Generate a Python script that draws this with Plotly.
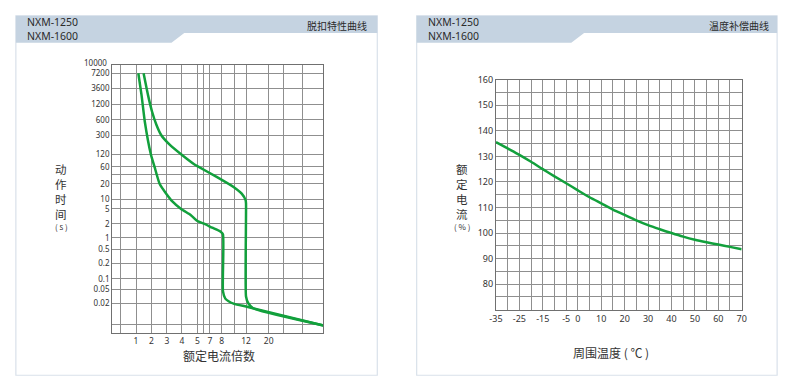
import numpy as np
import plotly.graph_objects as go

W, H = 790, 389

# ---------------- Left chart: tripping characteristic ----------------
mult_ticks = [0, 0.5, 1, 2, 3, 4, 5, 6, 7, 8, 10, 12, 20, 30, 40, 50]
mult_labels = ["", "", "1", "2", "3", "4", "5", "", "7", "8", "", "12", "20", "", "", ""]
time_ticks = [0.005, 0.01, 0.02, 0.05, 0.1, 0.2, 0.5, 1, 2, 5, 10, 20, 40, 60,
              120, 300, 600, 1200, 3600, 7200, 10000]
time_labels = ["", "", "0.02", "0.05", "0.1", "0.2", "0.5", "1", "2", "5", "10", "20", "",
               "60", "120", "300", "600", "1200", "3600", "7200", "10000"]

# curve with lower threshold (8x instantaneous)
curve_a_mult = [1.15, 1.36, 1.57, 1.96, 2.21, 2.53, 2.96, 3.38, 3.94, 4.58, 5.0, 6.1,
                7.19, 7.89, 8.2, 8.2, 8.58, 9.1, 10.0, 12.05, 14.5, 50]
curve_a_time = [7200, 2220, 554, 120, 58, 20, 12.8, 8.4, 5, 3.41, 2.36, 2.0,
                1.65, 1.37, 1.2, 0.044, 0.027, 0.0228, 0.0196, 0.018, 0.017, 0.0092]
# curve with upper threshold (12x instantaneous)
curve_b_mult = [1.49, 1.78, 2.04, 2.32, 2.64, 3.17, 3.94, 4.79, 5.0, 7.61, 9.89, 11.27,
                11.93, 12.0, 12.0, 12.8, 14.5, 50]
curve_b_time = [7200, 2220, 866, 484, 305, 195, 120, 69, 62, 33, 17.3, 12.8,
                9.3, 7.4, 0.031, 0.02, 0.017, 0.0092]

# ---------------- Right chart: temperature compensation ----------------
temps = [-35, -30, -25, -20, -15, -10, -5, 0, 5, 10, 15, 20, 25, 30, 35, 40, 45, 50, 55, 60, 65, 70]
rated_pct = [135.6, 133.1, 130.6, 127.9, 125.0, 122.2, 119.5, 116.7, 114.0, 111.6, 109.2,
             107.1, 105.0, 103.1, 101.5, 100.0, 98.6, 97.4, 96.4, 95.5, 94.6, 93.7]
temp_label_vals = [-35, -25, -15, -5, 0, 10, 20, 30, 40, 50, 60, 70]
pct_label_vals = [80, 90, 100, 110, 120, 130, 140, 150, 160]

# ---- layout geometry of the hand-drawn (non-uniform) grid of the left chart ----
mult_grid_pos = [0, 8.6, 24.3, 40, 55.6, 71, 86.6, 92.6, 99.3, 111.3, 124, 136, 159, 174, 193.3, 214.6]
time_grid_pos = [0, 8.4, 30, 44.4, 55, 70.4, 85, 96.5, 111, 126, 136, 151.7, 161, 169,
                 181.7, 200.7, 216.7, 232.4, 249, 264.2, 272.7]


def to_x(v):
    return np.interp(v, mult_ticks, mult_grid_pos)


def to_y(t):
    return np.interp(np.log10(t), np.log10(time_ticks), time_grid_pos)


GREEN = "#12a03c"
GRID = "#8f8f8f"
AXL = "#707070"
TXT = "#333333"
CJK = "Noto Sans CJK SC"
NUMF = "Noto Sans"

fig = go.Figure()
for xs, ts in [(curve_a_mult, curve_a_time), (curve_b_mult, curve_b_time)]:
    fig.add_trace(go.Scatter(x=to_x(np.array(xs)), y=to_y(np.array(ts)), mode="lines",
                             line=dict(color=GREEN, width=2.5, shape="spline", smoothing=0.5),
                             xaxis="x", yaxis="y", showlegend=False, hoverinfo="skip"))

fig.add_trace(go.Scatter(x=temps, y=rated_pct, mode="lines",
                         line=dict(color=GREEN, width=2.5, shape="spline", smoothing=0.8),
                         xaxis="x2", yaxis="y2", showlegend=False))


def px(x):
    return x / W


def py(y):
    return 1 - y / H


temp_grid = list(range(-35, 71, 5))
temp_text = [str(v) if v in temp_label_vals else "" for v in temp_grid]
pct_grid = list(range(70, 161, 5))
pct_text = [str(v) if v in pct_label_vals else "" for v in pct_grid]

# the top label of the left chart sits just above the border; drawn as annotation
top_label = time_labels[-1]
left_ytext = time_labels[:-1] + [""]

axis_common = dict(showgrid=True, gridcolor=GRID, gridwidth=1, showline=True, mirror=True,
                   linecolor=AXL, linewidth=1, zeroline=False, ticks="", fixedrange=True)
left_yfont = dict(family=NUMF, size=8, color=TXT)
left_xfont = dict(family=NUMF, size=8.5, color=TXT)
right_font = dict(family=NUMF, size=9, color=TXT)

fig.update_layout(
    width=W, height=H, margin=dict(l=0, r=0, t=0, b=0),
    paper_bgcolor="white", plot_bgcolor="rgba(0,0,0,0)",
    xaxis=dict(domain=[px(106.7), px(321.3)], range=[0, 214.6], tickmode="array",
               tickvals=mult_grid_pos, ticktext=mult_labels, anchor="y",
               tickfont=left_xfont, **axis_common),
    yaxis=dict(domain=[py(331.7), py(59)], range=[0, 272.7], tickmode="array",
               tickvals=time_grid_pos, ticktext=left_ytext, anchor="x",
               tickfont=left_yfont, **axis_common),
    xaxis2=dict(domain=[px(496.5), px(746)], range=[-35, 70], tickmode="array",
                tickvals=temp_grid, ticktext=temp_text, anchor="y2",
                tickfont=right_font, **axis_common),
    yaxis2=dict(domain=[py(308.3), py(74)], range=[70, 160], tickmode="array",
                tickvals=pct_grid, ticktext=pct_text, anchor="x2",
                tickfont=right_font, **axis_common),
)

shapes = []
HEADER = "#c5d3e1"
BORDER = "#d9e1ea"
for (x0, x1, notch) in [(9, 376, 167), (416, 782, 573)]:
    shapes.append(dict(type="rect", xref="paper", yref="paper", x0=px(x0), x1=px(x1),
                       y0=py(375), y1=py(9), line=dict(color=BORDER, width=1.2),
                       fillcolor="white", layer="below"))
    path = (f"M {px(x0)},{py(9)} L {px(x1)},{py(9)} L {px(x1)},{py(26.5)} "
            f"L {px(notch + 13)},{py(26.5)} L {px(notch)},{py(36.5)} L {px(x0)},{py(36.5)} Z")
    shapes.append(dict(type="path", xref="paper", yref="paper", path=path,
                       fillcolor=HEADER, line=dict(width=0), layer="below"))
fig.update_layout(shapes=shapes)

ann = []


def add_text(x, y, text, size=11, xanchor="center", family=CJK, color=TXT):
    ann.append(dict(x=px(x), y=py(y), xref="paper", yref="paper", text=text, showarrow=False,
                    xanchor=xanchor, yanchor="middle", font=dict(family=family, size=size, color=color)))


# headers
for x0, title, x1 in [(18, "脱扣特性曲线", 368), (425, "温度补偿曲线", 776)]:
    add_text(x0, 22.5, "NXM-1250<br>NXM-1600", size=10.5, xanchor="left", family=NUMF, color="#2b2b2b")
    add_text(x1, 18.5, title, size=10, xanchor="right", color="#2b2b2b")

# top tick label of left chart
ann.append(dict(x=px(104), y=time_grid_pos[-1], xref="paper", yref="y", text=top_label,
                showarrow=False, xanchor="right", yanchor="middle", yshift=2.5,
                font=left_yfont))

# vertical y titles (stacked characters)
add_text(55, 187.5, "动<br>作<br>时<br>间", size=11.5)
add_text(55, 224, "( s )", size=8)
add_text(462.5, 188, "额<br>定<br>电<br>流", size=11.5)
add_text(462.5, 224, "( % )", size=8)

# x titles
add_text(215, 354.5, "额定电流倍数", size=12)
add_text(613, 352, "周围温度 ( ℃ )", size=12)

fig.update_layout(annotations=ann)

fig.write_html("out.html", post_script="document.body.style.margin='0';",
               config={"displayModeBar": False})
